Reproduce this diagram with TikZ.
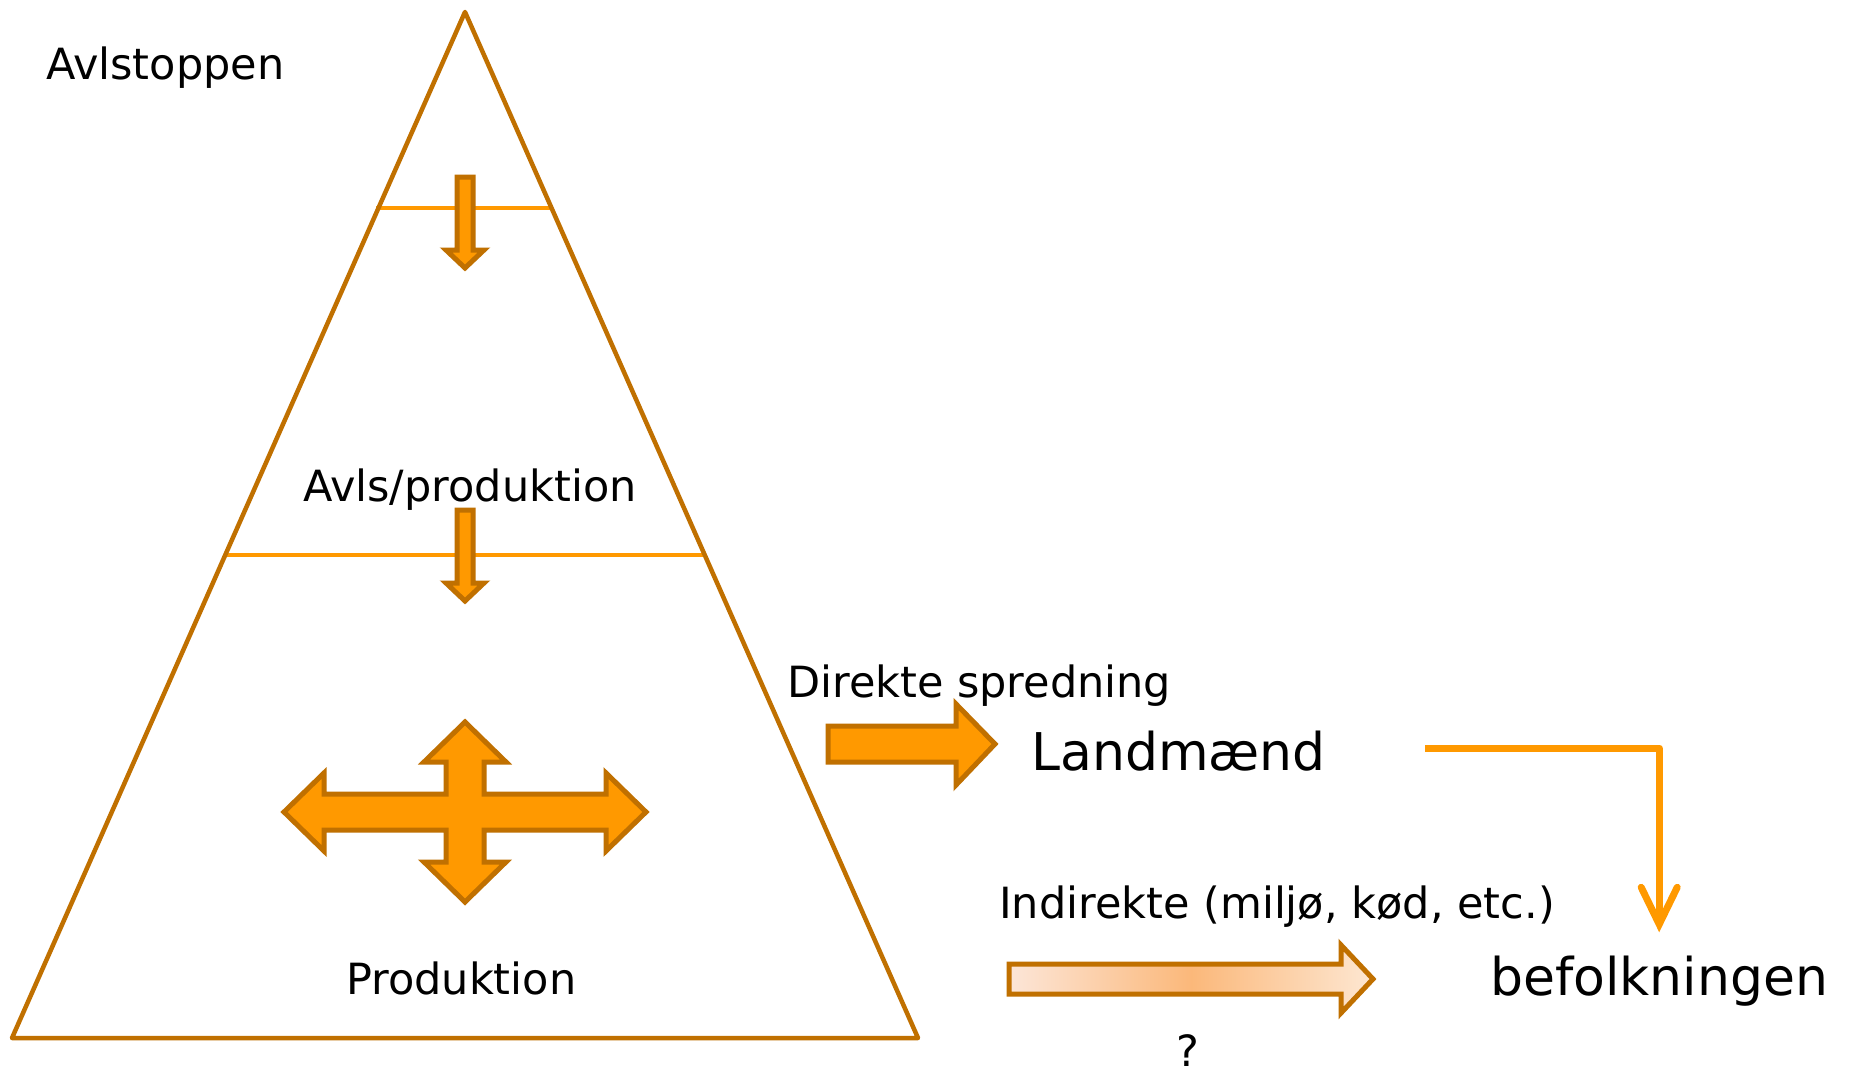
\documentclass[tikz,border=0pt]{standalone}
\usepackage{fontspec}
\setmainfont{DejaVu Sans}
\usetikzlibrary{arrows.meta}
\definecolor{brn}{RGB}{192,112,0}
\definecolor{org}{RGB}{255,153,0}
\definecolor{pk1}{RGB}{252,230,216}
\definecolor{pk2}{RGB}{251,184,122}
\definecolor{pk3}{RGB}{253,231,210}
\begin{document}
\begin{tikzpicture}[x=1pt,y=-1pt,
  lbl/.style={inner sep=0pt, anchor=base west, font=\fontsize{43}{50}\selectfont},
  big/.style={inner sep=0pt, anchor=base west, font=\fontsize{52}{62}\selectfont},
  blockarrow/.style={draw=brn, fill=org, line width=5pt, line join=miter},
  divider/.style={draw=org, line width=4pt},
  pyramid/.style={draw=brn, line width=4.5pt, line join=round},
  conn/.style={draw=org, line width=7pt, line join=round,
    -{Straight Barb[length=37pt,width=36pt,line cap=round]}},
]
\useasboundingbox (0,0) rectangle (1850,1073);
\fill[white] (0,0) rectangle (1850,1073);

% pyramid
\coordinate (apex) at (465,12);
\coordinate (bl) at (12,1038);
\coordinate (br) at (918,1038);
\draw[divider] (376,208) -- (553,208);
\draw[divider] (224,555) -- (706,555);
\draw[pyramid] (apex) -- (bl) -- (br) -- cycle;

% small down arrows
\draw[blockarrow] (457,177) -- (473,177) -- (473,250) -- (484,250) -- (465,268)
  -- (446,250) -- (457,250) -- cycle;
\draw[blockarrow] (457,510) -- (473,510) -- (473,583) -- (484,583) -- (465,601)
  -- (446,583) -- (457,583) -- cycle;

% four-way arrow
\draw[blockarrow] (646,812) -- (606,773) -- (606,794) -- (484,794) -- (484,762)
  -- (506,762) -- (465,722) -- (424,762) -- (446,762) -- (446,794) -- (324,794)
  -- (324,773) -- (284,812) -- (324,851) -- (324,830) -- (446,830) -- (446,862)
  -- (424,862) -- (465,902) -- (506,862) -- (484,862) -- (484,830) -- (606,830)
  -- (606,851) -- cycle;

% direct arrow
\draw[blockarrow] (828,726) -- (956,726) -- (956,704) -- (995,744) -- (956,785)
  -- (956,762) -- (828,762) -- cycle;

% indirect arrow (gradient)
\path[draw=brn, line width=5pt, line join=miter, left color=pk1, right color=pk3, middle color=pk2]
  (1009,964) -- (1341,964) -- (1341,945) -- (1373,979) -- (1341,1013)
  -- (1341,994) -- (1009,994) -- cycle;

% texts
\node[lbl] (top) at (46,79) {Avlstoppen};
\node[lbl] (avls) at (303,501) {Avls/produktion};
\node[lbl] (prod) at (346,994) {Produktion};
\node[lbl] (direkte) at (787,697) {Direkte spredning};
\node[big] (land) at (1031,770) {Landmænd};
\node[lbl] (indirekte) at (999,918) {Indirekte (miljø, kød, etc.)};
\node[big] (bef) at (1490,995) {befolkningen};
\node[lbl] (q) at (1176,1066) {?};

% connector
\coordinate (lstart) at (1425,748);
\draw[conn, shorten >=23pt] (lstart) -| (bef.north);
\end{tikzpicture}
\end{document}
